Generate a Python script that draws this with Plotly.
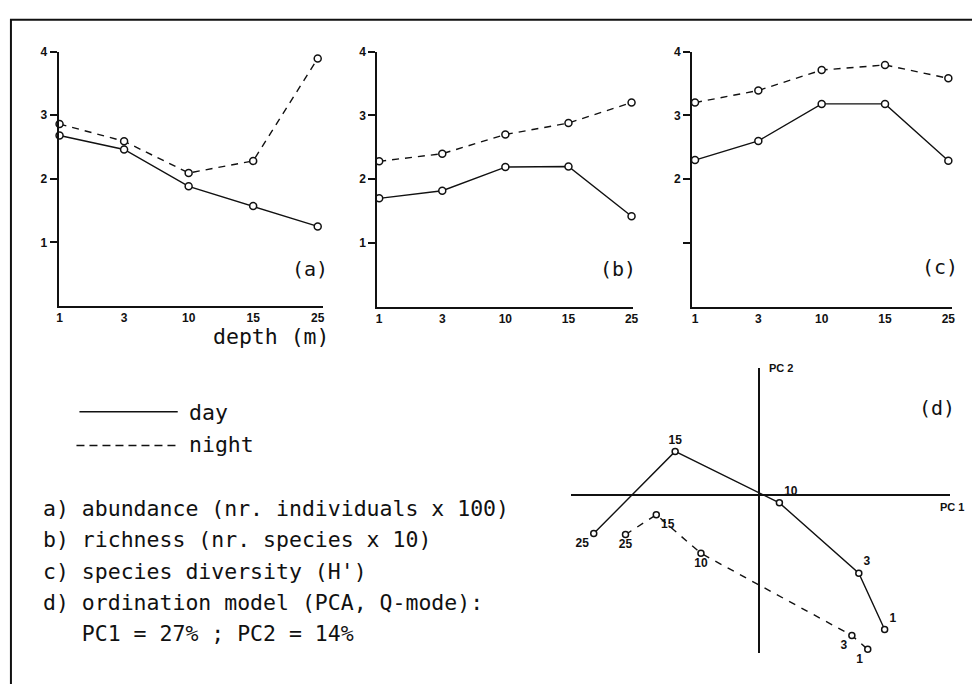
import plotly.graph_objects as go

W, H = 977, 684

# ---------------- data ----------------
depths = ["1", "3", "10", "15", "25"]

abund_day = [2.68, 2.46, 1.88, 1.57, 1.25]
abund_night = [2.86, 2.59, 2.09, 2.28, 3.89]

rich_day = [1.70, 1.82, 2.19, 2.20, 1.42]
rich_night = [2.28, 2.40, 2.70, 2.88, 3.20]

div_day = [2.30, 2.60, 3.18, 3.18, 2.29]
div_night = [3.20, 3.39, 3.71, 3.79, 3.58]

pca_labels = ["25", "15", "10", "3", "1"]
pc1_day = [-1.66, -0.84, 0.21, 1.01, 1.27]
pc2_day = [-0.39, 0.44, -0.08, -0.79, -1.36]
pc1_night = [-1.34, -1.03, -0.58, 0.94, 1.10]
pc2_night = [-0.40, -0.20, -0.59, -1.42, -1.56]

y_ticks = [1, 2, 3, 4]
y_text_ab = ["1", "2", "3", "4"]
y_text_c = ["", "2", "3", "4"]

legend_lines = [
    "a) abundance (nr. individuals x 100)",
    "b) richness (nr. species x 10)",
    "c) species diversity (H')",
    "d) ordination model (PCA, Q-mode):",
    "   PC1 = 27% ; PC2 = 14%",
]

# ---------------- helpers ----------------
def px(x):
    return x / W

def py(y):
    return 1 - y / H

INK = "#111111"
MONO = "DejaVu Sans Mono"
SANS = "Liberation Sans"
TXT = 21.5

fig = go.Figure()

panels = [
    ("x", "y", (57, 323), (45, 302), (-0.015, 4.077), abund_day, abund_night, y_text_ab, "(a)", (310, 265)),
    ("x2", "y2", (378, 636), (45, 303), (-0.03, 4.03), rich_day, rich_night, y_text_ab, "(b)", (620, 265)),
    ("x3", "y3", (695, 957), (45, 303), (-0.047, 4.06), div_day, div_night, y_text_c, "(c)", (945, 263)),
]

for i, (xa, ya, xd, yd, xr, day, night, ytext, tag, tpos) in enumerate(panels):
    fig.add_trace(go.Scatter(
        x=depths, y=night, xaxis=xa, yaxis=ya, mode="lines+markers",
        line=dict(color=INK, width=1.4, dash="7px,6px"),
        marker=dict(symbol="circle", size=7, color="white", line=dict(color=INK, width=1.5)),
        showlegend=False, hoverinfo="skip", cliponaxis=False))
    fig.add_trace(go.Scatter(
        x=depths, y=day, xaxis=xa, yaxis=ya, mode="lines+markers",
        line=dict(color=INK, width=1.4),
        marker=dict(symbol="circle", size=7, color="white", line=dict(color=INK, width=1.5)),
        showlegend=False, hoverinfo="skip", cliponaxis=False))
    n = "" if i == 0 else str(i + 1)
    fig.update_layout(**{
        "xaxis" + n: dict(
            domain=[px(xd[0]), px(xd[1])], anchor=ya, type="category",
            categoryorder="array", categoryarray=depths, range=list(xr),
            showline=True, linecolor=INK, linewidth=2, showgrid=False, zeroline=False,
            ticks="", tickfont=dict(family=SANS, size=12, color=INK, weight="bold"),
            fixedrange=True),
        "yaxis" + n: dict(
            domain=[py(yd[1]), py(yd[0])], anchor=xa, range=[0, 4],
            showline=True, linecolor=INK, linewidth=2, showgrid=False, zeroline=False,
            ticks="outside", ticklen=7, tickwidth=1.5, tickcolor=INK,
            tickvals=y_ticks, ticktext=ytext,
            tickfont=dict(family=SANS, size=12, color=INK, weight="bold"),
            fixedrange=True),
    })
    fig.add_annotation(x=px(tpos[0]), y=py(tpos[1]), xref="paper", yref="paper",
                       text=tag, showarrow=False, xanchor="center", yanchor="middle",
                       font=dict(family=MONO, size=20, color=INK))

fig.add_annotation(x=px(211), y=py(318), xref="paper", yref="paper", text="depth&nbsp;(m)",
                   showarrow=False, xanchor="left", yanchor="top",
                   font=dict(family=MONO, size=TXT, color=INK))

# ---------------- PCA panel ----------------
fig.add_trace(go.Scatter(
    x=pc1_night, y=pc2_night, xaxis="x4", yaxis="y4", mode="lines+markers+text",
    text=pca_labels,
    textposition=["bottom center", "bottom right", "bottom center", "bottom left", "bottom left"],
    textfont=dict(family=SANS, size=12, color=INK, weight="bold"),
    line=dict(color=INK, width=1.4, dash="7px,7px"),
    marker=dict(symbol="circle", size=6, color="white", line=dict(color=INK, width=1.5)),
    showlegend=False, hoverinfo="skip", cliponaxis=False))
fig.add_trace(go.Scatter(
    x=pc1_day, y=pc2_day, xaxis="x4", yaxis="y4", mode="lines+markers+text",
    text=pca_labels,
    textposition=["bottom left", "top center", "top right", "top right", "top right"],
    textfont=dict(family=SANS, size=12, color=INK, weight="bold"),
    line=dict(color=INK, width=1.4),
    marker=dict(symbol="circle", size=6, color="white", line=dict(color=INK, width=1.5)),
    showlegend=False, hoverinfo="skip", cliponaxis=False))

fig.update_layout(
    xaxis4=dict(domain=[px(573), px(955)], anchor="y4", range=[-1.89, 1.93],
                showgrid=False, showline=False, showticklabels=False, ticks="",
                zeroline=True, zerolinecolor=INK, zerolinewidth=2, fixedrange=True),
    yaxis4=dict(domain=[py(653), py(365)], anchor="x4", range=[-1.60, 1.28],
                showgrid=False, showline=False, showticklabels=False, ticks="",
                zeroline=True, zerolinecolor=INK, zerolinewidth=2, fixedrange=True),
)

for txt, x, y in [("PC 2", 771, 365), ("PC 1", 943, 505)]:
    fig.add_annotation(x=px(x), y=py(y), xref="paper", yref="paper", text="<b>" + txt + "</b>",
                       showarrow=False, xanchor="left", yanchor="middle",
                       font=dict(family=SANS, size=11, color=INK))
fig.add_annotation(x=px(942), y=py(405), xref="paper", yref="paper", text="(d)",
                   showarrow=False, xanchor="center", yanchor="middle",
                   font=dict(family=MONO, size=20, color=INK))

# ---------------- key & caption ----------------
shapes = [
    dict(type="line", xref="paper", yref="paper", x0=px(78), x1=px(177), y0=py(409), y1=py(409),
         line=dict(color=INK, width=1.5)),
    dict(type="line", xref="paper", yref="paper", x0=px(75), x1=px(177), y0=py(443), y1=py(443),
         line=dict(color=INK, width=1.5, dash="8px,5px")),
    dict(type="path", xref="paper", yref="paper",
         path=f"M {px(9)} {py(684)} L {px(9)} {py(13)} L {px(977)} {py(13)}",
         line=dict(color=INK, width=2)),
]
fig.update_layout(shapes=shapes)

fig.add_annotation(x=px(186), y=py(410), xref="paper", yref="paper", text="day",
                   showarrow=False, xanchor="left", yanchor="middle",
                   font=dict(family=MONO, size=TXT, color=INK))
fig.add_annotation(x=px(186), y=py(442), xref="paper", yref="paper", text="night",
                   showarrow=False, xanchor="left", yanchor="middle",
                   font=dict(family=MONO, size=TXT, color=INK))

caption_y = [507, 538, 570, 602, 633]
for line, yy in zip(legend_lines, caption_y):
    fig.add_annotation(x=px(39), y=py(yy), xref="paper", yref="paper",
                       text=line.replace(" ", "&nbsp;"),
                       showarrow=False, xanchor="left", yanchor="middle",
                       font=dict(family=MONO, size=TXT, color=INK))

fig.update_layout(
    width=W, height=H, margin=dict(l=0, r=0, t=0, b=0),
    paper_bgcolor="white", plot_bgcolor="rgba(0,0,0,0)",
    showlegend=False,
)

fig.write_html(
    "out.html",
    config={"displayModeBar": False},
    post_script="document.body.style.margin='0';document.body.style.overflow='hidden';",
)
